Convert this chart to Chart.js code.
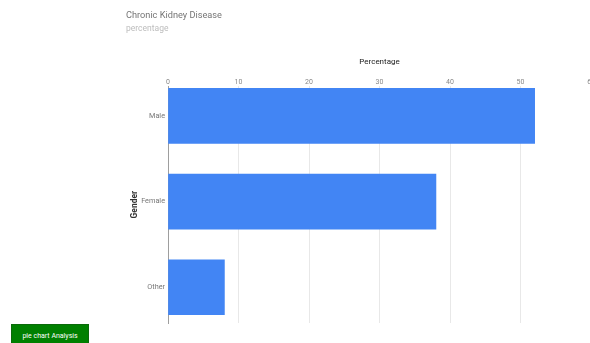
<!DOCTYPE html>
<html>
<head>
<meta charset="utf-8">
<script src="https://cdn.jsdelivr.net/npm/chart.js@4"></script>
<style>
  html, body { margin: 0; padding: 0; background: #fff; overflow: hidden; }
  #wrap { position: relative; width: 595px; height: 343px; }
  #btn {
    position: absolute; left: 11px; top: 324px; width: 78px; height: 24px;
    background: #008000; color: #ffffff; border: 1px solid #0a6a0a;
    font-family: Roboto, sans-serif; font-size: 7px; font-weight: normal;
    padding: 0; text-align: center; line-height: 22px; box-sizing: border-box;
  }
</style>
</head>
<body>
<div id="wrap">
  <canvas id="chart" width="595" height="343"></canvas>
  <button id="btn">pie chart Analysis</button>
</div>
<script>
var categorias = ['Male', 'Female', 'Other']
var valores = [52, 38, 8]
var ticksX = [0, 10, 20, 30, 40, 50, 60]

Chart.defaults.font.family = 'Roboto, sans-serif'

var ctx = document.getElementById('chart')

var grafico = new Chart(ctx, {
    type: 'bar',
    data: {
        datasets: [{
            label: 'Percentage',
            data: valores.map(function (v, i) { return { x: v, y: i } }),
            backgroundColor: '#4285f4',
            borderWidth: 0,
            barThickness: 55
        }]
    },
    options: {
        indexAxis: 'y',
        responsive: false,
        animation: false,
        layout: { padding: { left: 126, right: 0, top: 0, bottom: 20 } },
        plugins: {
            legend: { display: false },
            tooltip: { enabled: false },
            title: {
                display: true, text: 'Chronic Kidney Disease', align: 'start',
                color: '#757575', font: { size: 9.2, weight: 'normal' },
                padding: { top: 10, bottom: 1 }
            },
            subtitle: {
                display: true, text: 'percentage', align: 'start',
                color: '#bdbdbd', font: { size: 8.5 },
                padding: { top: 2, bottom: 0 }
            }
        },
        scales: {
            x: {
                position: 'top',
                min: 0, max: 60,
                afterBuildTicks: function (axis) {
                    axis.ticks = ticksX.map(function (t) { return { value: t } })
                },
                afterFit: function (axis) { axis.height = 52 },
                grid: { color: '#e8e8e8', drawTicks: false },
                border: { display: false },
                ticks: { color: '#888', font: { size: 7 }, padding: 0 },
                title: {
                    display: true, text: 'Percentage', color: '#222',
                    font: { size: 8 }, padding: { top: 23, bottom: 0 }
                }
            },
            y: {
                type: 'linear',
                reverse: true,
                offset: false,
                min: -0.347, max: 2.418,
                afterBuildTicks: function (axis) {
                    axis.ticks = categorias.map(function (c, i) { return { value: i } })
                },
                afterFit: function (axis) { axis.width = 42 },
                grid: { display: false, drawTicks: false },
                border: { display: true, color: '#9e9e9e', width: 1 },
                ticks: {
                    color: '#777', font: { size: 7.3 }, padding: 3,
                    callback: function (v) { return categorias[v] }
                },
                title: {
                    display: true, text: 'Gender', color: '#333',
                    font: { size: 8.5, weight: 'bold' }, padding: { top: 4, bottom: 0 }
                }
            }
        }
    }
})
</script>
</body>
</html>
